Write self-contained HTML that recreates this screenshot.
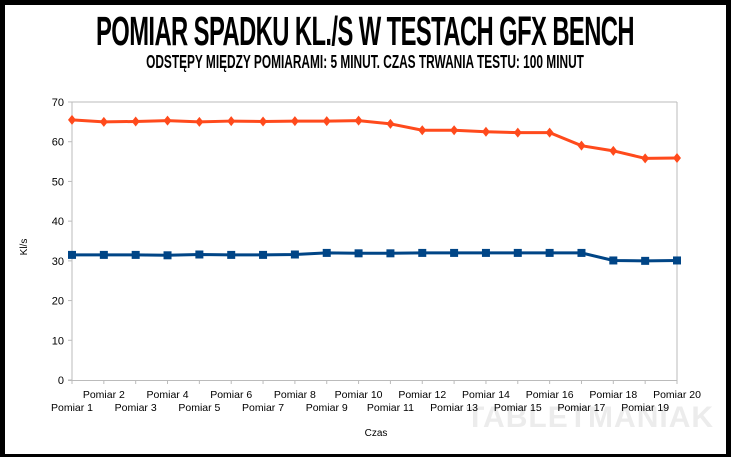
<!DOCTYPE html>
<html><head><style>
body{margin:0;width:731px;height:457px;overflow:hidden;background:#000}
.wrap{position:absolute;left:5px;top:5px;width:721px;height:449px;background:#fff}
.t{position:absolute;left:-635px;width:2000px;text-align:center;font-family:"Liberation Sans",sans-serif;font-weight:bold;color:#000;white-space:nowrap}
</style></head><body>
<div class="wrap"></div>
<div class="t" style="top:8px;font-size:41px;letter-spacing:-1px;transform:scaleX(0.58);">POMIAR SPADKU KL./S W TESTACH GFX BENCH</div>
<div class="t" style="top:52px;font-size:18px;transform:scaleX(0.66);">ODSTĘPY MIĘDZY POMIARAMI: 5 MINUT. CZAS TRWANIA TESTU: 100 MINUT</div>
<svg style="position:absolute;left:0;top:0" width="731" height="457" font-family="Liberation Sans,sans-serif" font-size="11">
<text x="590" y="427" font-size="30" font-weight="bold" fill="#ececec" text-anchor="middle" letter-spacing="1">TABLETMANIAK</text>
<g stroke="#bbb" stroke-width="1">
<line x1="72" y1="102" x2="677" y2="102"/>
<line x1="677" y1="102" x2="677" y2="384"/>
<line x1="72" y1="102" x2="72" y2="384"/>
<line x1="68" y1="380.5" x2="677" y2="380.5"/>
</g>
<g id="yt" stroke="#bbb"></g>
<g id="lab"></g>
<text x="27" y="247" font-size="10" transform="rotate(-90 27 247)" text-anchor="middle">Kl/s</text>
<text x="376" y="436" font-size="10" text-anchor="middle">Czas</text>
<polyline id="o" fill="none" stroke="#ff4a1c" stroke-width="3"/>
<polyline id="b" fill="none" stroke="#004586" stroke-width="3"/>
<g id="m"></g>
</svg>
<script>
var o=[65.5,65,65.1,65.3,65,65.2,65.1,65.2,65.2,65.3,64.5,62.9,62.9,62.5,62.3,62.3,59,57.7,55.8,55.9];
var b=[31.5,31.5,31.5,31.4,31.6,31.5,31.5,31.6,32,31.9,31.9,32,32,32,32,32,32,30.1,30,30.1];
function X(i){return 72+i*605/19}function Y(v){return 380-v*278/70}
var ns="http://www.w3.org/2000/svg";
function el(p,t,a,tx){var e=document.createElementNS(ns,t);for(var k in a)e.setAttribute(k,a[k]);if(tx!==undefined)e.textContent=String(tx);p.appendChild(e);return e}
var yt=document.getElementById('yt'),lab=document.getElementById('lab'),m=document.getElementById('m');
for(var v=0;v<=70;v+=10){var y=Y(v);el(yt,'line',{x1:68,x2:72,y1:y,y2:y});el(lab,'text',{x:64,y:y+4,'text-anchor':'end'},v)}
for(var i=0;i<20;i++){var x=X(i);el(yt,'line',{x1:x,x2:x,y1:380,y2:384});
el(lab,'text',{x:x,y:i%2?398:411,'text-anchor':'middle','font-size':10.5},'Pomiar '+(i+1));}
document.getElementById('o').setAttribute('points',o.map(function(v,i){return X(i)+','+Y(v)}).join(' '));
document.getElementById('b').setAttribute('points',b.map(function(v,i){return X(i)+','+Y(v)}).join(' '));
for(i=0;i<20;i++){var x=X(i),y=Y(o[i]);el(m,'polygon',{points:(x)+','+(y-5)+' '+(x+4)+','+y+' '+x+','+(y+5)+' '+(x-4)+','+y,fill:'#ff4a1c'});
y=Y(b[i]);el(m,'rect',{x:x-4,y:y-4,width:8,height:8,fill:'#004586'});}
</script>
</body></html>
